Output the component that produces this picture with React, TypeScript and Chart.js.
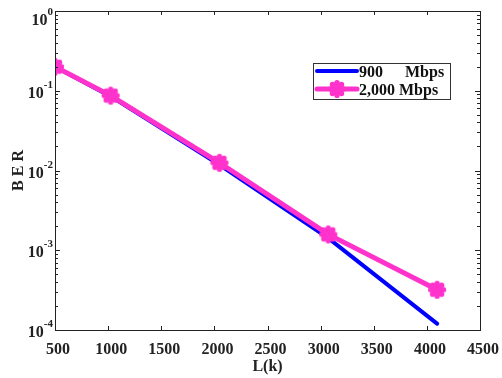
import React, { useEffect, useLayoutEffect, useRef } from "react";
import { Chart, registerables } from "chart.js";
Chart.register(...registerables);

const xValues = [500, 1024, 2048, 3072, 4096];
const ber900 = [0.2, 0.085, 0.0118, 0.00142, 0.00012];
const ber2000 = [0.2, 0.087, 0.0125, 0.00158, 0.00032];
const xTicks = [500, 1000, 1500, 2000, 2500, 3000, 3500, 4000, 4500];
const yExponents = [0, -1, -2, -3, -4];
const seriesNames = ["900", "Mbps", "2,000 Mbps"];

const BLUE = "#0000ff";
const PINK = "#ff33cc";
const FONT = "'Liberation Serif', 'DejaVu Serif', serif";

function makeMarker(): HTMLCanvasElement {
  const c = document.createElement("canvas");
  c.width = 20;
  c.height = 20;
  const g = c.getContext("2d")!;
  g.fillStyle = PINK;
  const cx = 10, cy = 10;
  g.beginPath();
  g.arc(cx, cy, 6.3, 0, Math.PI * 2);
  g.fill();
  for (let i = 0; i < 8; i++) {
    const a = (i * Math.PI) / 4;
    g.beginPath();
    g.arc(cx + Math.cos(a) * 6.4, cy + Math.sin(a) * 6.4, 2.7, 0, Math.PI * 2);
    g.fill();
  }
  return c;
}

const markerImg = makeMarker();

const framePlugin = {
  id: "frame",
  afterDatasetsDraw(chart: any) {
    const { ctx, chartArea: a, scales } = chart;
    const xs = scales.x, ys = scales.y;
    ctx.save();
    ctx.strokeStyle = "#222";
    ctx.lineWidth = 1;
    ctx.strokeRect(a.left + 0.5, a.top + 0.5, a.right - a.left, a.bottom - a.top);
    ctx.beginPath();
    for (const t of xTicks) {
      const px = Math.round(xs.getPixelForValue(t)) + 0.5;
      ctx.moveTo(px, a.bottom);
      ctx.lineTo(px, a.bottom - 4);
      ctx.moveTo(px, a.top);
      ctx.lineTo(px, a.top + 4);
    }
    for (const e of yExponents) {
      for (let m = 1; m <= 9; m++) {
        const v = m * Math.pow(10, e);
        if (e === 0 && m > 1) continue;
        const py = Math.round(ys.getPixelForValue(v)) + 0.5;
        const len = m === 1 ? 5 : 3;
        ctx.moveTo(a.left, py);
        ctx.lineTo(a.left + len, py);
        ctx.moveTo(a.right, py);
        ctx.lineTo(a.right - len, py);
      }
    }
    ctx.stroke();

    ctx.fillStyle = "#222";
    ctx.font = `bold 16px ${FONT}`;
    ctx.textAlign = "center";
    ctx.textBaseline = "alphabetic";
    for (const t of xTicks) {
      ctx.fillText(String(t), xs.getPixelForValue(t) + 3, a.bottom + 24);
    }
    for (const e of yExponents) {
      const py = ys.getPixelForValue(Math.pow(10, e));
      const base = Math.max(py + 7, a.top + 14);
      const expStr = String(e);
      ctx.font = `bold 11px ${FONT}`;
      ctx.textAlign = "right";
      const expRight = a.left - 2;
      ctx.fillText(expStr, expRight, base - 10);
      const ew = ctx.measureText(expStr).width;
      ctx.font = `bold 16px ${FONT}`;
      ctx.fillText("10", expRight - ew, base);
    }
    ctx.font = `bold 16px ${FONT}`;
    ctx.textAlign = "center";
    ctx.fillText("L(k)", (a.left + a.right) / 2, a.bottom + 41);
    ctx.save();
    ctx.translate(15, (a.top + a.bottom) / 2);
    ctx.rotate(-Math.PI / 2);
    ctx.fillText("B E R", 0, 0);
    ctx.restore();

    // legend
    const lx = 305, ly = 55, lw = 137, lh = 36;
    ctx.fillStyle = "#fff";
    ctx.fillRect(lx, ly, lw, lh);
    ctx.strokeStyle = "#333";
    ctx.lineWidth = 1;
    ctx.strokeRect(lx + 0.5, ly + 0.5, lw, lh);
    const rows = [ly + 8, ly + 26];
    ctx.lineCap = "round";
    ctx.strokeStyle = BLUE;
    ctx.lineWidth = 4;
    ctx.beginPath();
    ctx.moveTo(lx + 4, rows[0]);
    ctx.lineTo(lx + 44, rows[0]);
    ctx.stroke();
    ctx.strokeStyle = PINK;
    ctx.lineWidth = 5;
    ctx.beginPath();
    ctx.moveTo(lx + 4, rows[1]);
    ctx.lineTo(lx + 44, rows[1]);
    ctx.stroke();
    ctx.drawImage(markerImg, lx + 24 - 10, rows[1] - 10);
    ctx.fillStyle = "#111";
    ctx.font = `bold 16px ${FONT}`;
    ctx.textAlign = "left";
    ctx.textBaseline = "alphabetic";
    ctx.fillText(seriesNames[0], lx + 46, rows[0] + 6);
    ctx.fillText(seriesNames[1], lx + 92, rows[0] + 6);
    ctx.fillText(seriesNames[2], lx + 46, rows[1] + 6);
    ctx.restore();
  },
};

export default function App() {
  const ref = useRef<HTMLCanvasElement>(null);
  useLayoutEffect(() => {
    document.body.style.margin = "0";
    document.body.style.overflow = "hidden";
  }, []);
  useEffect(() => {
    const chart = new Chart(ref.current!, {
      type: "line",
      data: {
        datasets: [
          {
            label: "900 Mbps",
            data: xValues.map((x, i) => ({ x, y: ber900[i] })),
            borderColor: BLUE,
            borderWidth: 4,
            pointRadius: 0,
            borderCapStyle: "round",
            order: 2,
          },
          {
            label: seriesNames[2],
            data: xValues.map((x, i) => ({ x, y: ber2000[i] })),
            borderColor: PINK,
            borderWidth: 5,
            pointStyle: markerImg,
            pointRadius: 10,
            borderCapStyle: "round",
            order: 1,
          },
        ],
      },
      options: {
        animation: false,
        responsive: false,
        events: [],
        layout: { autoPadding: false, padding: { left: 47, right: 22, top: 3, bottom: 48 } },
        plugins: { legend: { display: false }, tooltip: { enabled: false } },
        scales: {
          x: { type: "linear", min: 500, max: 4500, display: false },
          y: { type: "logarithmic", min: 1e-4, max: 1, display: false },
        },
      },
      plugins: [framePlugin],
    });
    return () => chart.destroy();
  }, []);
  return (
    <div style={{ width: 502, height: 378, paddingTop: 8, paddingLeft: 8, boxSizing: "border-box" }}>
      <canvas ref={ref} width={494} height={370} style={{ display: "block" }} />
    </div>
  );
}
